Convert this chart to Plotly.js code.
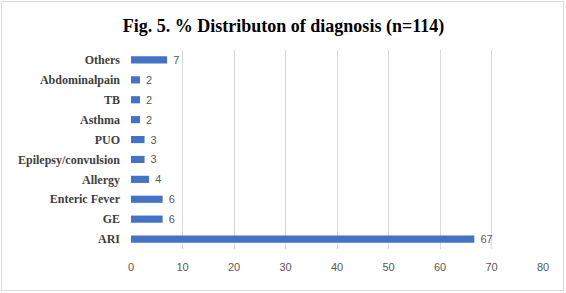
<!DOCTYPE html>
<html>
<head>
<meta charset="utf-8">
<script src="https://cdn.plot.ly/plotly-3.0.1.min.js"></script>
<style>
html,body{margin:0;padding:0;background:#fff;}
#chart{position:absolute;left:1px;top:1px;width:563px;height:290px;border:1px solid #d9d9d9;box-sizing:border-box;}
</style>
</head>
<body>
<div id="chart"></div>
<script>
var categories = ["ARI","GE","Enteric Fever","Allergy","Epilepsy/convulsion","PUO","Asthma","TB","Abdominalpain","Others"];
var values = [66.67, 6.14, 6.14, 3.51, 2.63, 2.63, 1.75, 1.75, 1.75, 7.02];
var xTicks = [0,10,20,30,40,50,60,70,80];

var serif = '"Liberation Serif", "Times New Roman", serif';
var sans = '"Liberation Sans", Arial, sans-serif';

var trace = {
  type: 'bar',
  orientation: 'h',
  y: categories,
  x: values,
  marker: {color: '#4472C4'},
  width: 0.36,
  texttemplate: ' %{x:.0f}',
  textposition: 'outside',
  constraintext: 'none',
  textfont: {family: sans, size: 11, color: '#595959'},
  cliponaxis: false,
  hoverinfo: 'none'
};

var layout = {
  width: 563, height: 290,
  margin: {l: 129, r: 22, t: 48, b: 43},
  paper_bgcolor: 'rgba(0,0,0,0)',
  plot_bgcolor: '#fff',
  showlegend: false,
  title: {
    text: 'Fig. 5. % Distributon of diagnosis (n=114)',
    font: {family: serif, size: 18, color: '#000', weight: 'bold'},
    x: 0.5, xanchor: 'center', y: 0.92, yanchor: 'middle'
  },
  xaxis: {
    range: [0, 80],
    tickvals: xTicks,
    ticktext: xTicks.map(String),
    showgrid: true,
    gridcolor: '#d9d9d9',
    gridwidth: 1,
    zeroline: false,
    showline: false,
    ticks: '',
    ticklabelstandoff: 10,
    tickfont: {family: sans, size: 11, color: '#595959'},
    fixedrange: true
  },
  yaxis: {
    type: 'category',
    categoryorder: 'array',
    categoryarray: categories,
    showgrid: false,
    zeroline: false,
    showline: false,
    ticks: '',
    ticklabelstandoff: 10,
    tickfont: {family: serif, size: 12, color: '#404040', weight: 'bold'},
    fixedrange: true
  },
  bargap: 0.6
};

Plotly.newPlot('chart', [trace], layout, {displayModeBar: false, staticPlot: true});
</script>
</body>
</html>
